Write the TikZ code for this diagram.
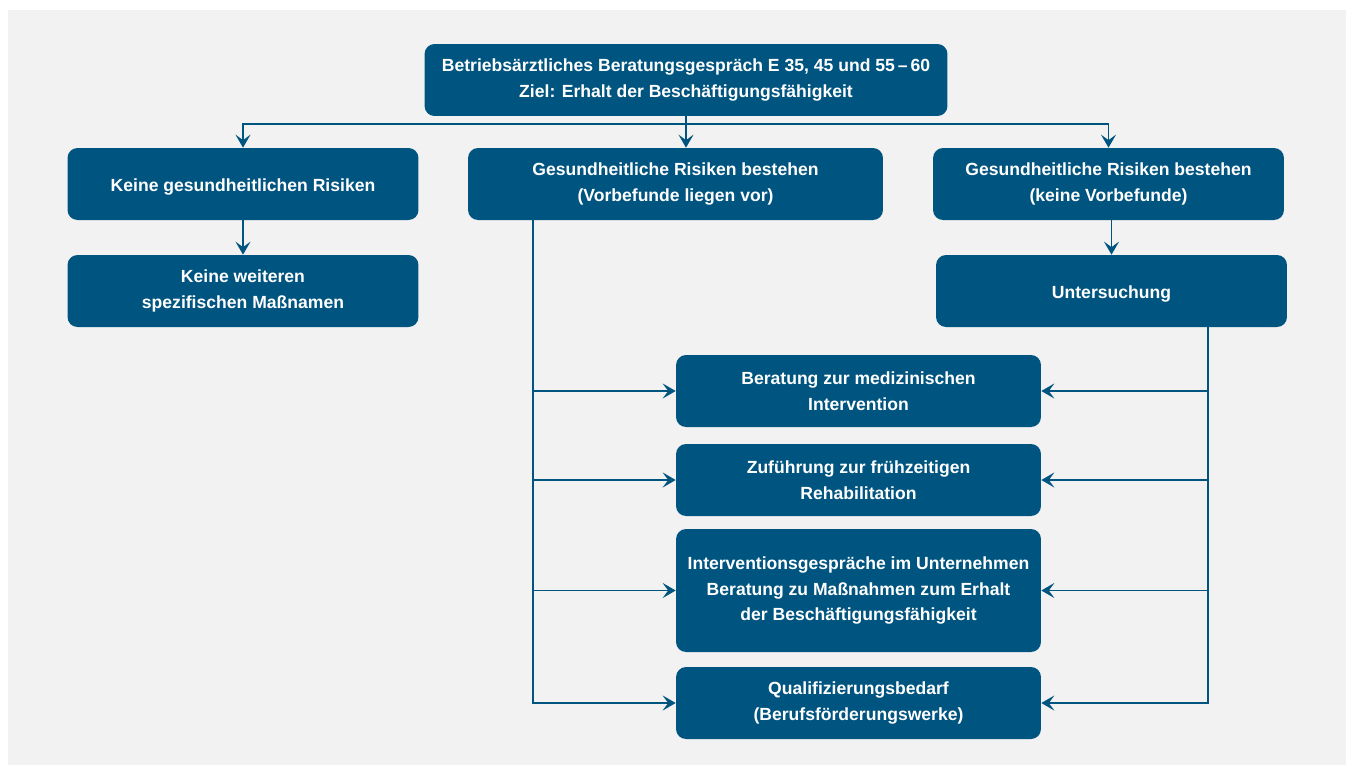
\documentclass[tikz,border=0pt]{standalone}
\usepackage{fontspec}
\setmainfont{Liberation Sans}
\usetikzlibrary{arrows.meta,positioning}
\definecolor{boxblue}{RGB}{0,84,128}
\definecolor{bggray}{RGB}{242,242,242}

\begin{document}
\begin{tikzpicture}[
            x=0.02cm, y=-0.02cm,
            box/.style={rectangle, rounded corners=0.2cm, fill=boxblue, text=white,
                font=\bfseries\fontsize{10}{14.7}\selectfont, align=center,
                minimum width=7.02cm, minimum height=1.44cm, inner sep=0pt,
                execute at begin node=\rule{0pt}{11pt}},
            link/.style={draw=boxblue, line width=1.1pt},
            arr/.style={link, -{Stealth[length=2.6mm, width=3mm, inset=1.1mm]}}
        ]

% background
            \useasboundingbox (0,0) rectangle (1352,765);
            \fill[white] (0,0) rectangle (1352,765);
            \fill[bggray] (8,10) rectangle (1346,765);

% boxes
            \node[box, minimum width=10.46cm] (top) at (686,80) {Betriebsärztliches Beratungsgespräch E 35, 45 und 55\,–\,60\\Ziel: Erhalt der Beschäftigungsfähigkeit};
            \node[box] (keine) at (243,184) {Keine gesundheitlichen Risiken};
            \node[box, minimum width=8.3cm] (vorb) at (675.5,184) {Gesundheitliche Risiken bestehen\\(Vorbefunde liegen vor)};
            \node[box] (ohne) at (1108.5,184) {Gesundheitliche Risiken bestehen\\(keine Vorbefunde)};
            \node[box] (weitere) at (243,291) {Keine weiteren\\spezifischen Maßnamen};
            \node[box] (unters) at (1111.5,291) {Untersuchung};
            \node[box, minimum width=7.3cm] (med) at (858.5,391) {Beratung zur medizinischen\\Intervention};
            \node[box, minimum width=7.3cm] (reha) at (858.5,480) {Zuführung zur frühzeitigen\\Rehabilitation};
            \node[box, minimum width=7.3cm, minimum height=2.46cm] (interv) at (858.5,590.5) {Interventionsgespräche im Unternehmen\\Beratung zu Maßnahmen zum Erhalt\\der Beschäftigungsfähigkeit};
            \node[box, minimum width=7.3cm] (quali) at (858.5,703) {Qualifizierungsbedarf\\(Berufsförderungswerke)};

% helper points
            \coordinate (split) at (686,124);
            \coordinate (lx) at (533,0);
            \coordinate (rx) at (1208,0);

% connectors
            \draw[link] (top.south -| split) -- (split);
            \draw[arr] (split) -| (keine.north);
            \draw[arr] (split) -- (split |- vorb.north);
            \draw[arr] (split) -| (ohne.north);
            \draw[arr] (keine) -- (weitere);
            \draw[arr] (ohne.south -| unters.north) -- (unters.north);
            \foreach \target in {med, reha, interv, quali} {
                \draw[arr] (vorb.south -| lx) |- (\target.west);
                \draw[arr] (unters.south -| rx) |- (\target.east);
            }

        \end{tikzpicture}
\end{document}
